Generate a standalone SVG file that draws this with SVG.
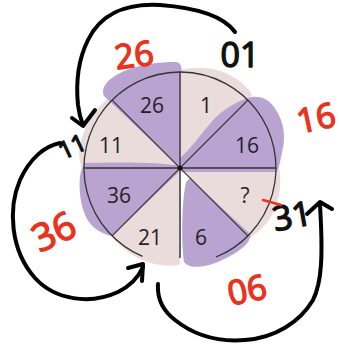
<svg xmlns="http://www.w3.org/2000/svg" width="339" height="344" viewBox="0 0 339 344">
<style>
.pk{fill:#ebdcdc}
.pu{fill:#b9a3d0}
.ln{stroke:#333;stroke-width:1.3;fill:none}
.num{font-family:"Open Sans","Noto Sans",sans-serif;font-size:21px;fill:#222;text-anchor:middle}
.hr{font-family:"Open Sans","Noto Sans",sans-serif;font-weight:400;fill:#e8331f;stroke:#e8331f;stroke-width:1.4;stroke-linejoin:round;text-anchor:middle}
.hb{font-family:"Open Sans","Noto Sans",sans-serif;font-weight:400;fill:#111;stroke:#111;stroke-width:1.4;stroke-linejoin:round;text-anchor:middle}
.arr{stroke:#000;stroke-width:4;fill:none;stroke-linecap:round;stroke-linejoin:round}
</style>
<rect width="339" height="344" fill="#fff"/>
<g id="wheel">
  <g id="s-1"><path class="pk" d="M180,168 L180,70 C200,65 222,68 238,80 C246,86 252,92 252,98 Z"/><text class="num" x="206" y="113">1</text></g>
  <g id="s-11"><path class="pk" d="M180,168 L108,98 C95,110 84,125 80,145 C78,155 80,163 82,168 Z"/><text class="num" x="111" y="153">11</text></g>
  <g id="s-21"><path class="pk" d="M180,168 L112,236 C122,250 140,262 160,265 C170,266 178,266 180,264 Z"/><text class="num" x="150" y="245">21</text></g>
  <g id="s-q"><path class="pk" d="M180,168 L279,168 C282,180 280,200 272,215 C266,226 258,232 250,238 Z"/><text class="num" x="245" y="203">?</text></g>
  <g id="s-26"><path class="pu" d="M180,168 L104,96 C100,86 110,78 122,72 C140,64 160,62 176,62 C182,63 182,68 181,75 L181,168 Z"/><text class="num" x="152" y="113">26</text></g>
  <g id="s-16"><path class="pu" d="M180,168 L178,160 C190,150 200,135 215,118 C228,106 240,100 252,97 C262,96 270,100 276,110 C284,122 286,138 282,152 C280,162 279,170 276,172 L182,172 Z"/><text class="num" x="247" y="153">16</text></g>
  <g id="s-36"><path class="pu" d="M183,166 C160,162 120,162 85,163 C78,170 78,195 84,212 C88,225 98,233 112,236 L181,170 Z"/><text class="num" x="119" y="203">36</text></g>
  <g id="s-6"><path class="pu" d="M190,178 L250,234 C252,242 240,252 222,260 C208,267 190,270 184,262 C181,240 182,200 186,182 Z"/><text class="num" x="201" y="245">6</text></g>
  <path class="ln" d="M216,257 A96,96 0 1 0 142.5,256.4"/>
  <path class="ln" d="M180,72 L180,168 M112.1,100.1 L247.9,235.9 M247.9,100.1 L112.1,235.9 M84,168 L276,168"/>
  <path d="M180,168 L180,258" stroke="#666" stroke-width="2" fill="none"/>
  <circle cx="180" cy="168" r="2.5" fill="#111"/>
</g>
<g id="labels">
  <text class="hr" x="134" y="67" font-size="34" transform="rotate(-8 134 55)">26</text>
  <text class="hb" x="240" y="67" font-size="34">01</text>
  <text class="hr" x="316" y="130" font-size="34" transform="rotate(-12 316 118)">16</text>
  <text class="hb" x="72" y="155" font-size="24" transform="rotate(-25 72 146)">11</text>
  <text class="hr" x="54" y="245" font-size="38" transform="rotate(-25 54 232)">36</text>
  <text class="hr" x="247" y="302" font-size="34" transform="rotate(-12 247 290)">06</text>
  <text class="hb" x="292" y="228" font-size="34" transform="rotate(-10 292 216)">31</text>
  <line x1="263" y1="200" x2="281" y2="205" stroke="#e8331f" stroke-width="2.5" stroke-linecap="round"/>
</g>
<g id="connectors">
  <path class="arr" d="M235,32 C225,18 200,8 160,5 C125,3 100,15 88,40 C78,60 76,85 78,105 C79,113 81,120 83,125"/>
  <path class="arr" d="M72,118 L83,126 L95,110"/>
  <path class="arr" d="M60,143 C45,146 30,158 20,180 C8,208 10,250 35,278 C55,300 90,305 118,292 C130,286 138,278 143,267"/>
  <path class="arr" d="M128,268 L143,264 L142,281"/>
  <path class="arr" d="M158,284 C157,298 162,310 175,320 C195,336 220,342 245,340 C275,338 300,322 313,300 C322,282 323,255 320,205"/>
  <path class="arr" d="M307,214 L320,202 L332,209"/>
</g>
</svg>
